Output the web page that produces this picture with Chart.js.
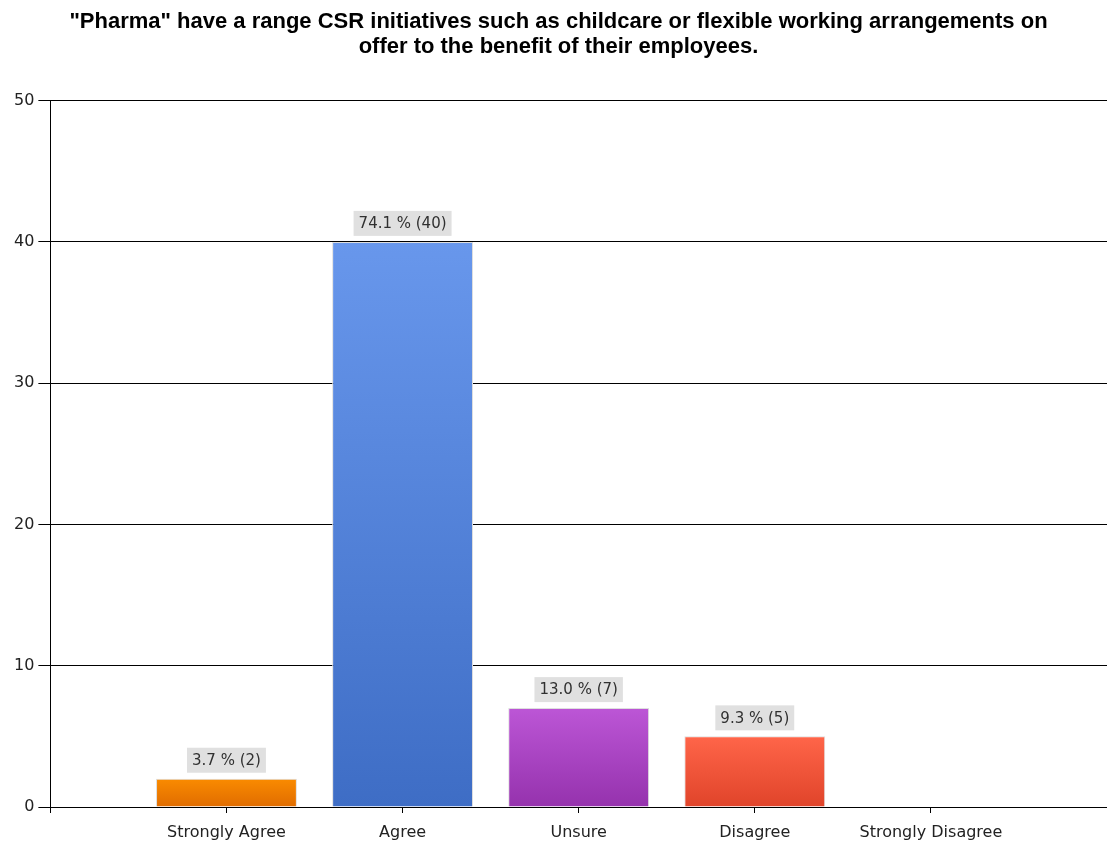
<!DOCTYPE html>
<html lang="en">

<head>
  <meta charset="UTF-8" />
  <title>Pharma CSR initiatives</title>
  <script src="https://cdn.jsdelivr.net/npm/chart.js@4.4.0/dist/chart.umd.min.js"></script>
  <style>
    html, body { margin: 0; padding: 0; background: #fff; }
    #wrap { width: 1107px; height: 844px; }
  </style>
</head>

<body>
  <div id="wrap"><canvas id="csrChart"></canvas></div>

  <script>
    // survey answers
    const categories = ["Strongly Agree", "Agree", "Unsure", "Disagree", "Strongly Disagree"];
    const counts = [2, 40, 7, 5, 0];
    const yTicks = [0, 10, 20, 30, 40, 50];

    // gradient top / bottom for each bar
    const topColors = ["#fa8b00", "#6897ec", "#bc56d6", "#ff6549", "#cccccc"];
    const bottomColors = ["#e06c00", "#3e6dc5", "#9532ad", "#e0442a", "#aaaaaa"];

    const total = counts.reduce((a, b) => a + b, 0);

    // empty slot at each end so the bars sit inside the axis
    const labels = [""].concat(categories, [""]);
    const values = [null].concat(counts, [null]);

    function barFill(ctx) {
      const chart = ctx.chart;
      const i = ctx.dataIndex - 1;
      if (!chart.chartArea || i < 0 || i >= categories.length) return topColors[0];
      const y = chart.scales.y;
      const g = chart.ctx.createLinearGradient(0, y.getPixelForValue(ctx.raw), 0, y.getPixelForValue(0));
      g.addColorStop(0, topColors[i]);
      g.addColorStop(1, bottomColors[i]);
      return g;
    }

    // grey value boxes above the bars
    const valueBoxes = {
      id: "valueBoxes",
      afterDatasetsDraw(chart) {
        const c = chart.ctx;
        const meta = chart.getDatasetMeta(0);
        c.save();
        c.font = "15px 'DejaVu Sans', sans-serif";
        c.textAlign = "center";
        c.textBaseline = "middle";
        meta.data.forEach((bar, idx) => {
          const n = values[idx];
          if (!n) return;
          const pct = (n / total * 100).toFixed(1);
          const txt = pct + " % (" + n + ")";
          const w = c.measureText(txt).width + 10;
          const h = 25;
          const bottom = bar.y - 6;
          c.fillStyle = "#e0e0e0";
          c.fillRect(bar.x - w / 2, bottom - h, w, h);
          c.fillStyle = "#303030";
          c.fillText(txt, bar.x, bottom - h / 2 + 1);
        });
        c.restore();
      }
    };

    Chart.defaults.font.family = "'DejaVu Sans', sans-serif";

    new Chart(document.getElementById("csrChart"), {
      type: "bar",
      data: {
        labels: labels,
        datasets: [{
          data: values,
          backgroundColor: barFill,
          borderColor: "#dedede",
          borderWidth: 1,
          barPercentage: 1.0,
          categoryPercentage: 0.8
        }]
      },
      options: {
        responsive: true,
        maintainAspectRatio: false,
        animation: false,
        layout: { padding: { left: 10, right: 0, top: 0, bottom: 0 } },
        plugins: {
          legend: { display: false },
          tooltip: { enabled: false },
          title: {
            display: true,
            text: [
              "\"Pharma\" have a range CSR initiatives such as childcare or flexible working arrangements on",
              "offer to the benefit of their employees."
            ],
            color: "#000",
            font: { family: "'Liberation Sans', Arial, sans-serif", size: 22, weight: "bold", lineHeight: 1.15 },
            padding: { top: 9, bottom: 41 }
          }
        },
        scales: {
          x: {
            offset: false,
            // keep the plot running to the right edge, fixed axis band height
            afterFit: (s) => { s.paddingRight = 0; s.height = 37; },
            grid: {
              offset: false,
              drawOnChartArea: false,
              drawTicks: true,
              tickLength: 6,
              color: "#000"
            },
            border: { color: "#000", width: 1 },
            ticks: {
              color: "#222",
              font: { size: 16, lineHeight: 1 },
              padding: 12,
              autoSkip: false,
              maxRotation: 0
            }
          },
          y: {
            min: 0,
            max: 50,
            afterBuildTicks: (axis) => { axis.ticks = yTicks.map(v => ({ value: v })); },
            grid: {
              color: "#000",
              lineWidth: 1,
              tickLength: 12
            },
            border: { color: "#000", width: 1 },
            ticks: {
              color: "#222",
              font: { size: 16 },
              padding: 4
            }
          }
        }
      },
      plugins: [valueBoxes]
    });
  </script>
</body>

</html>
